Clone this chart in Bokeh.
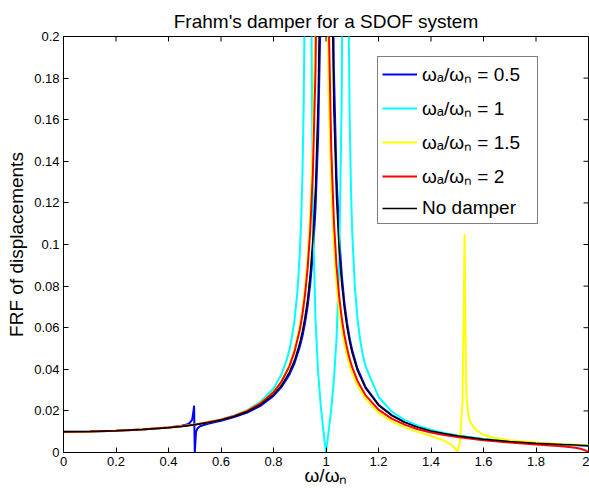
import math
from bokeh.plotting import figure
from bokeh.models import (Legend, LegendItem, FixedTicker, CustomJSTickFormatter, Range1d)
from bokeh.embed import file_html
from bokeh.resources import INLINE

# ---- data (frequency ratio w/wn vs FRF of displacements) ----
ratio = [0, 0.1, 0.2, 0.3, 0.4, 0.45, 0.5, 0.55, 0.6, 0.65, 0.7, 0.75, 0.8, 0.83, 0.86,
         0.88, 0.9, 0.91, 0.92, 0.93, 0.94, 0.95, 0.96, 0.97, 0.98, 0.99, 1.0, 1.01,
         1.02, 1.03, 1.04, 1.05, 1.06, 1.07, 1.08, 1.09, 1.1, 1.12, 1.15, 1.2, 1.25,
         1.3, 1.35, 1.4, 1.45, 1.5, 1.6, 1.7, 1.8, 1.9, 1.95, 2.0]

frf_no_damper = [.0100, .0101, .0104, .0110, .0119, .0125, .0133, .0143, .0156, .0173,
                 .0196, .0229, .0278, .0322, .0385, .0443, .0526, .0582, .0651, .0737,
                 .0859, .1026, .1276, .1695, .2525, .5025, 2.0, .4975, .2475, .1642,
                 .1225, .0976, .0809, .0690, .0602, .0532, .0476, .0393, .0310, .0227,
                 .0178, .0145, .0122, .0104, .0091, .0080, .0064, .0053, .0045, .0038,
                 .0036, .0033]

ratio_cyan = [0, 0.1, 0.2, 0.3, 0.4, 0.45, 0.5, 0.55, 0.6, 0.65, 0.7, 0.75, 0.8, 0.83,
              0.85, 0.86, 0.87, 0.88, 0.89, 0.895, 0.9, 0.905, 0.91, 0.915, 0.92, 0.93,
              0.94, 0.95, 0.96, 0.97, 0.98, 0.99, 1.0, 1.01, 1.02, 1.03, 1.04, 1.05,
              1.06, 1.065, 1.07, 1.08, 1.085, 1.09, 1.095, 1.1, 1.11, 1.12, 1.13, 1.14,
              1.15, 1.2, 1.25, 1.3, 1.35, 1.4, 1.45, 1.5, 1.6, 1.7, 1.8, 1.9, 1.95, 2.0]
frf_ratio_1 = [.0100, .0101, .0104, .0110, .0120, .0126, .0135, .0145, .0159, .0178,
               .0204, .0243, .0308, .0375, .0444, .0491, .0553, .0637, .0759, .0844,
               .0955, .1105, .1324, .1669, .2305, 1.2, .2823, .1141, .0638, .0386,
               .0225, .0104, 0.0, .0101, .0211, .0348, .0545, .0888, .1718, .2875,
               .7618, .3816, .2253, .1619, .1273, .1055, .0794, .0642, .0542, .0470,
               .0416, .0267, .0197, .0156, .0129, .0109, .0094, .0082, .0065, .0054,
               .0045, .0039, .0036, .0034]

ratio_red = ratio[:-1] + [1.97, 1.99, 2.0]
frf_ratio_2 = [.0100, .0101, .0104, .0110, .0120, .0126, .0134, .0145, .0158, .0176,
               .0200, .0236, .0290, .0340, .0413, .0485, .0589, .0662, .0757, .0885,
               .1067, .1348, .1837, .2899, .6981, 1.649, .3750, .2106, .1459, .1114,
               .0899, .0752, .0646, .0565, .0502, .0451, .0409, .0344, .0276, .0206,
               .0163, .0134, .0112, .0096, .0084, .0074, .0059, .0048, .0039, .0030,
               .0023, .0018, .0009, 0.0]

ratio_blue = [0, 0.1, 0.2, 0.3, 0.4, 0.45, 0.47, 0.48, 0.49, 0.495, 0.4975, 0.5, 0.505,
              0.51, 0.52, 0.55, 0.6, 0.65, 0.7, 0.75, 0.8, 0.83, 0.86, 0.88, 0.9, 0.91,
              0.92, 0.93, 0.94, 0.95, 0.96, 0.97, 0.98, 0.99, 1.0, 1.01, 1.02, 1.03,
              1.04, 1.05, 1.06, 1.07, 1.08, 1.09, 1.1, 1.12, 1.15, 1.2, 1.25, 1.3, 1.35,
              1.4, 1.45, 1.5, 1.6, 1.7, 1.8, 1.9, 2.0]
frf_ratio_05 = [.0100, .0101, .0104, .0110, .0120, .0129, .0135, .0141, .0157, .0197,
                .0225, 0.0, .0100, .0115, .0126, .0138, .0152, .0170, .0192, .0224,
                .0272, .0314, .0373, .0429, .0507, .0558, .0622, .0704, .0811, .0958,
                .1173, .1517, .2157, .3758, 1.5, .7420, .2957, .1840, .1332, .1041,
                .0854, .0722, .0625, .0550, .0491, .0403, .0316, .0230, .0180, .0146,
                .0122, .0105, .0091, .0080, .0064, .0053, .0045, .0038, .0033]

ratio_yellow = ratio[:45] + [1.48, 1.49, 1.5, 1.51, 1.52, 1.525, 1.528, 1.531, 1.535,
                             1.54, 1.545, 1.55, 1.57, 1.6, 1.64, 1.7, 1.8, 1.9, 2.0]
frf_ratio_15 = [.0100, .0101, .0104, .0110, .0120, .0126, .0134, .0145, .0158, .0176,
                .0201, .0237, .0292, .0343, .0420, .0495, .0607, .0686, .0791, .0935,
                .1145, .1485, .2120, .3737, 1.643, .6744, .2778, .1741, .1264, .0990,
                .0811, .0686, .0594, .0522, .0466, .0419, .0381, .0321, .0259, .0192,
                .0150, .0121, .0099, .0079, .0057, .0035, .0022, 0.0, .0047, .0243,
                .0700, .1050, .0600, .0279, .0203, .0167, .0144, .0110, .0084, .0071,
                .0059, .0048, .0040, .0035]

x_ticks = [0, 0.2, 0.4, 0.6, 0.8, 1.0, 1.2, 1.4, 1.6, 1.8, 2.0]
y_ticks = [0, 0.02, 0.04, 0.06, 0.08, 0.1, 0.12, 0.14, 0.16, 0.18, 0.2]

labels = ["ωₐ/ωₙ = 0.5", "ωₐ/ωₙ = 1", "ωₐ/ωₙ = 1.5", "ωₐ/ωₙ = 2", "No damper"]

FONT = "Liberation Sans"
X_MIN, X_MAX = 0, 2
Y_MIN, Y_MAX = 0, 0.2

p = figure(width=589, height=497, output_backend="svg", toolbar_location=None,
           x_range=Range1d(X_MIN, X_MAX), y_range=Range1d(Y_MIN, Y_MAX),
           min_border_left=63, min_border_right=1, min_border_top=36,
           min_border_bottom=45, title="Frahm's damper for a SDOF system")
p.outline_line_color = "black"
p.outline_line_width = 1
p.grid.visible = False
p.background_fill_color = "white"
p.border_fill_color = "white"

p.title.text_font = FONT
p.title.text_font_size = "19px"
p.title.text_font_style = "normal"
p.title.align = "center"
p.title.text_color = "black"

xfmt = CustomJSTickFormatter(code="return tick.toFixed(1).replace(/\\.?0+$/, '');")
yfmt = CustomJSTickFormatter(code="return tick.toFixed(2).replace(/\\.?0+$/, '');")

for ax in p.axis:
    ax.major_tick_in = 5
    ax.major_tick_out = 0
    ax.minor_tick_line_color = None
    ax.axis_line_color = "black"
    ax.major_tick_line_color = "black"
    ax.major_label_text_font = FONT
    ax.major_label_text_font_size = "13px"
    ax.major_label_text_color = "black"
    ax.axis_label_text_font = FONT
    ax.axis_label_text_font_style = "normal"
    ax.axis_label_text_font_size = "19px"
    ax.axis_label_text_color = "black"

xax = p.below[0]
xax.ticker = FixedTicker(ticks=x_ticks)
xax.formatter = xfmt
xax.axis_label = "ω/ωₙ"
xax.major_label_standoff = 4
xax.axis_label_standoff = -4

yax = p.left[0]
yax.ticker = FixedTicker(ticks=y_ticks)
yax.formatter = yfmt
yax.axis_label = "FRF of displacements"
yax.major_label_standoff = 4
yax.axis_label_standoff = 4

# inward tick marks on the top and right edges of the box (MATLAB style)
p.ray(x=x_ticks, y=[Y_MAX] * len(x_ticks), length=5, length_units="screen",
      angle=-math.pi / 2, line_color="black", line_width=1)
p.ray(x=[X_MAX] * len(y_ticks), y=y_ticks, length=5, length_units="screen",
      angle=math.pi, line_color="black", line_width=1)

r_blue = p.line(ratio_blue, frf_ratio_05, line_color="#0000ff", line_width=2)
r_cyan = p.line(ratio_cyan, frf_ratio_1, line_color="#00ffff", line_width=2)
r_yel = p.line(ratio_yellow, frf_ratio_15, line_color="#ffff00", line_width=2)
r_red = p.line(ratio_red, frf_ratio_2, line_color="#ff0000", line_width=2)
r_blk = p.line(ratio, frf_no_damper, line_color="black", line_width=1.5)

legend = Legend(items=[LegendItem(label=l, renderers=[r]) for l, r in
                       zip(labels, [r_blue, r_cyan, r_yel, r_red, r_blk])],
                location=(314, 228))
legend.border_line_color = "black"
legend.border_line_width = 1
legend.background_fill_color = "white"
legend.background_fill_alpha = 1
legend.label_text_font = FONT
legend.label_text_font_size = "19px"
legend.label_text_color = "black"
legend.padding = 4
legend.spacing = 8
legend.label_height = 20
legend.glyph_height = 20
legend.glyph_width = 35
legend.label_standoff = 5
legend.label_width = 111
legend.margin = 0
p.add_layout(legend)

open("out.html", "w").write(file_html(p, INLINE))
